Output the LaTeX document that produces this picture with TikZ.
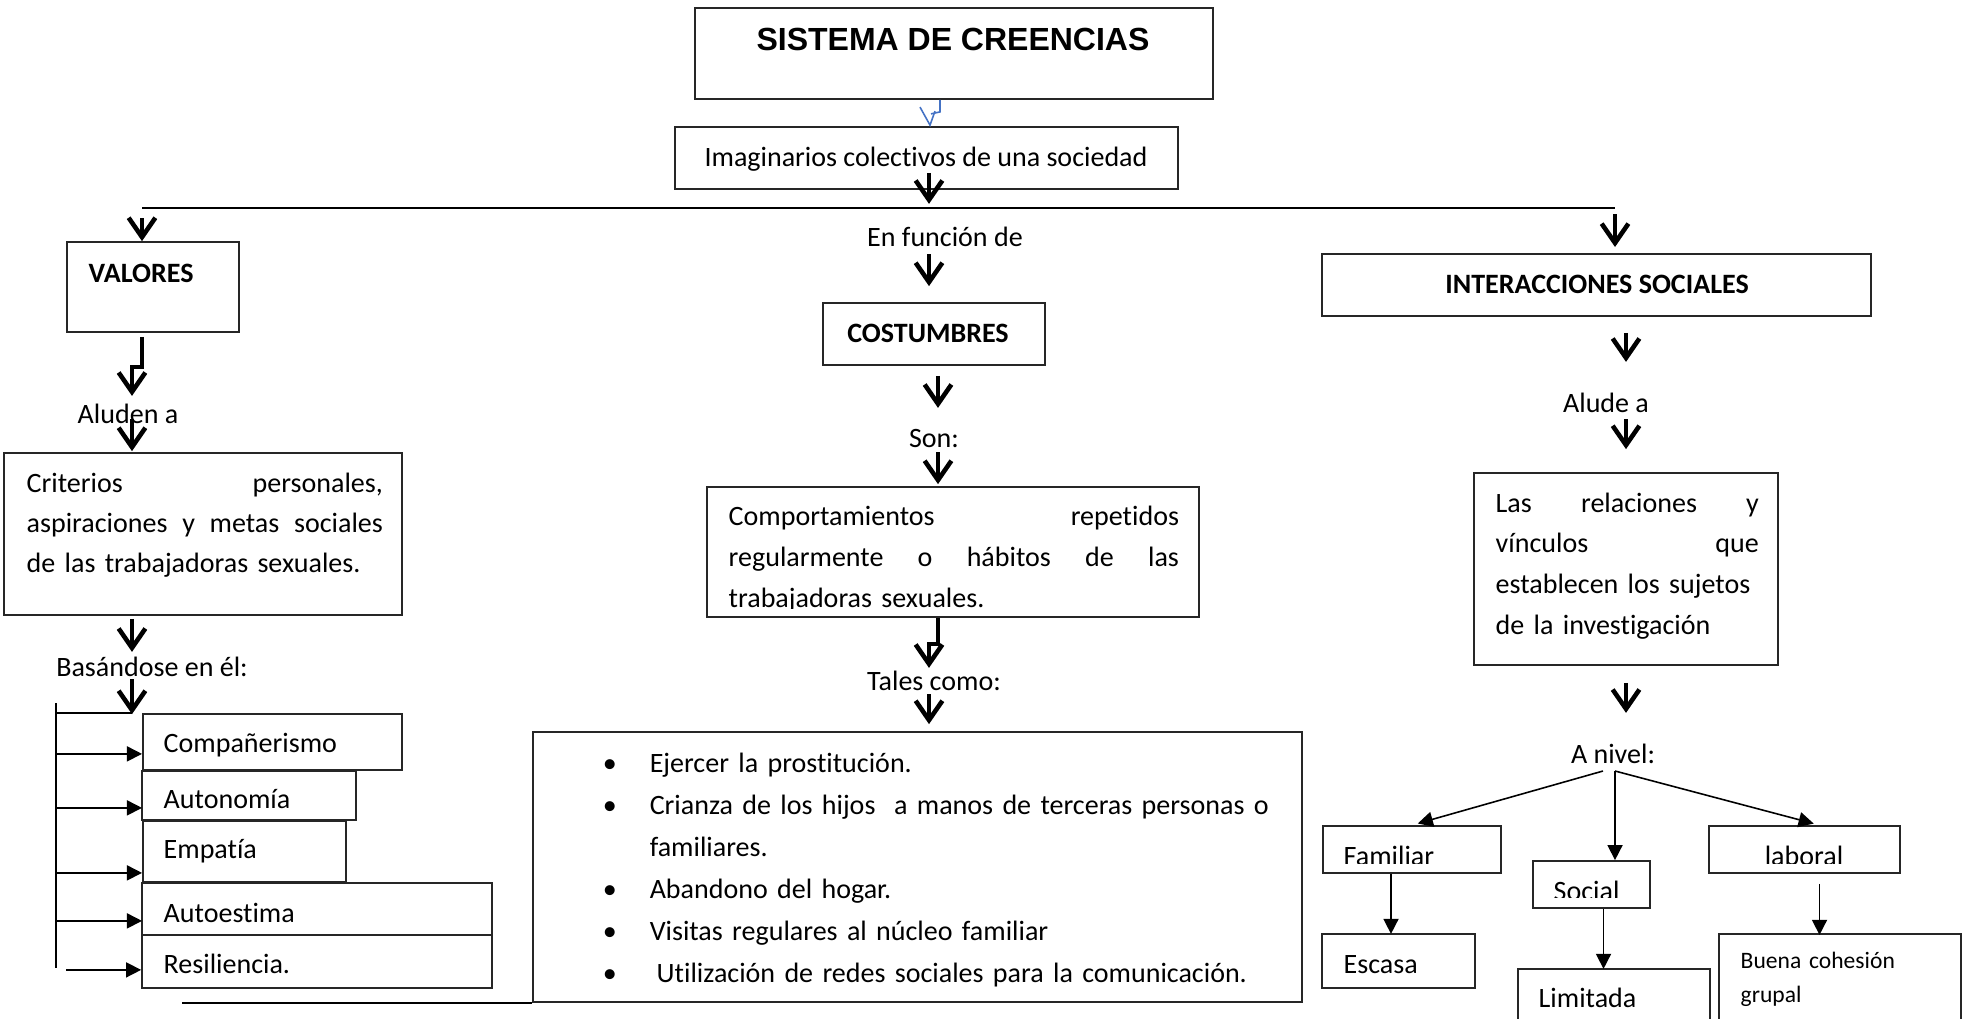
\documentclass[tikz,border=0pt]{standalone}
\usepackage{fontspec}
\setmainfont{Carlito}[Ligatures=CommonOff]
\newfontfamily\titlefont{Liberation Sans}
\usetikzlibrary{arrows.meta,fit,calc}
\definecolor{wordblue}{RGB}{68,114,196}

\begin{document}
\begin{tikzpicture}[x=0.01cm, y=-0.01cm,
    box/.style={draw=black!85, line width=0.5pt, inner sep=0pt},
    txt/.style={inner sep=0pt, font=\fontsize{7.97}{11.4}\selectfont},
    btxt/.style={inner sep=0pt, font=\fontsize{7.97}{11.4}\selectfont\bfseries},
    bigarrow/.style={line width=1.3pt, line join=miter, -{Straight Barb[length=5.5pt,width=7.6pt]}},
    thinarrow/.style={line width=0.45pt, -{Triangle[length=4.3pt,width=4.3pt]}},
    thinline/.style={line width=0.45pt},
    mainline/.style={line width=0.6pt},
    bluelink/.style={draw=wordblue, line width=0.45pt}]

\useasboundingbox (0,0) rectangle (1973,1018);

% boxes
\node[box, fit={(695,8) (1213,99)}] (sistema) {};
\node[box, fit={(675,127) (1178,189)}] (imag) {};
\node[box, fit={(67,242) (239,332)}] (valores) {};
\node[box, fit={(823,303) (1045,365)}] (costumbres) {};
\node[box, fit={(1322,254) (1871,316)}] (inter) {};
\node[box, fit={(4,453) (402,615)}] (criterios) {};
\node[box, fit={(707,487) (1199,617)}] (comport) {};
\node[box, fit={(1474,473) (1778,665)}] (relaciones) {};
\node[box, fit={(143,714) (402,770)}] (companer) {};
\node[box, fit={(142,771) (356,820)}] (autonomia) {};
\node[box, fit={(143,821) (346,882)}] (empatia) {};
\node[box, fit={(142,883) (492,935)}] (autoestima) {};
\node[box, fit={(142,935) (492,988)}] (resiliencia) {};
\node[box, fit={(533,732) (1302,1002)}] (bullets) {};
\node[box, fit={(1323,826) (1501,873)}] (familiar) {};
\node[box, fit={(1533,861) (1650,908)}] (social) {};
\node[box, fit={(1709,826) (1900,873)}] (laboral) {};
\node[box, fit={(1322,934) (1475,988)}] (escasa) {};
\node[box, fit={(1518,969) (1710,1030)}] (limitada) {};
\node[box, fit={(1719,934) (1961,1030)}] (buena) {};

% texts
\node[inner sep=0pt, anchor=base, font=\titlefont\bfseries\fontsize{9.1}{11}\selectfont] (titulo) at (953,50) {SISTEMA DE CREENCIAS};
\node[txt, anchor=base] (imag-t) at (926,166) {Imaginarios colectivos de una sociedad};
\node[txt, anchor=base] (funcion) at (945,246) {En función de};
\node[btxt, anchor=base] (costumbres-t) at (928,342) {COSTUMBRES};
\node[btxt, anchor=base west] (valores-t) at (88,282) {VALORES};
\node[btxt, anchor=base] (inter-t) at (1597,293) {INTERACCIONES SOCIALES};
\node[txt, anchor=base] (aluden) at (128,423) {Aluden a};
\node[txt, anchor=base west, text width=3.56cm, align=left] (criterios-t) at (26,492)
  {Criterios\hfill personales,\\ aspiraciones\hfill y\hfill metas\hfill sociales\\ de las trabajadoras sexuales.};
\node[txt, anchor=base] (basandose) at (152,676) {Basándose en él:};
\node[txt, anchor=base west] (companer-t) at (163,752) {Compañerismo};
\node[txt, anchor=base west] (autonomia-t) at (163,808) {Autonomía};
\node[txt, anchor=base west] (empatia-t) at (163,858) {Empatía};
\node[txt, anchor=base west] (autoestima-t) at (163,922) {Autoestima};
\node[txt, anchor=base west] (resiliencia-t) at (163,973) {Resiliencia.};
\node[txt, anchor=base] (son) at (934,447) {Son:};
\begin{scope}
  \clip (comport.north west) rectangle ([yshift=0.09cm]comport.south east);
  \node[txt, anchor=base west, text width=4.5cm, align=left, font=\fontsize{7.97}{11.66}\selectfont] (comport-t) at (728,525)
    {Comportamientos\hfill repetidos\\ regularmente\hfill o\hfill hábitos\hfill de\hfill las\\ trabajadoras sexuales.};
\end{scope}
\node[txt, anchor=base] (tales) at (934,690) {Tales como:};
\node[txt, anchor=base west, text width=7.2cm, align=left, font=\fontsize{7.97}{11.95}\selectfont] (lista) at (569,772)
  {\makebox[0.8cm]{\textbullet}Ejercer la prostitución.\\
   \makebox[0.8cm]{\textbullet}Crianza de los hijos~ a manos de terceras personas o\\
   \hspace*{0.8cm}familiares.\\
   \makebox[0.8cm]{\textbullet}Abandono del hogar.\\
   \makebox[0.8cm]{\textbullet}Visitas regulares al núcleo familiar\\
   \makebox[0.8cm]{\textbullet}\hspace{0.07cm}Utilización de redes sociales para la comunicación.};
\node[txt, anchor=base] (alude) at (1606,412) {Alude a};
\node[txt, anchor=base west, text width=2.63cm, align=left, font=\fontsize{7.97}{11.58}\selectfont] (relaciones-t) at (1495,512)
  {Las\hfill relaciones\hfill y\\ vínculos\hfill que\\ \mbox{establecen los sujetos}\\ de la investigación};
\node[txt, anchor=base] (anivel) at (1613,763) {A nivel:};
\begin{scope}
  \clip (familiar.north west) rectangle ([yshift=0.1cm]familiar.south east);
  \node[txt, anchor=base west] (familiar-t) at (1343,865) {Familiar};
\end{scope}
\begin{scope}
  \clip (social.north west) rectangle ([yshift=0.11cm]social.south east);
  \node[txt, anchor=base west] (social-t) at (1553,900) {Social};
\end{scope}
\begin{scope}
  \clip (laboral.north west) rectangle ([yshift=0.1cm]laboral.south east);
  \node[txt, anchor=base] (laboral-t) at (1804,865) {laboral};
\end{scope}
\node[txt, anchor=base west] (escasa-t) at (1343,973) {Escasa};
\node[txt, anchor=base west] (limitada-t) at (1538,1007) {Limitada};
\node[inner sep=0pt, anchor=base west, text width=2.2cm, align=left, font=\fontsize{6.7}{9.67}\selectfont] (buena-t) at (1740,968)
  {Buena cohesión\\ grupal};

% connectors
\coordinate (hub) at (929,208);
\coordinate (hl-l) at (142,208);
\coordinate (hl-r) at (1615,208);
\coordinate (bluex) at (940,0);
\coordinate (rc) at (1626,0);
\coordinate (lc) at (132,0);
\coordinate (lv) at (56,0);
\coordinate (mc) at (938,0);
\coordinate (split) at (1615,771);

\draw[bluelink] (sistema.south -| bluex) -- ++(0,12) -- ++(-9,2);
\draw[bluelink] (imag.north -| bluex) ++(-20,-19) -- ++(10,18) -- ++(5,-14);

\draw[mainline] (hl-l) -- (hl-r);
\draw[bigarrow] (hub |- imag.south) ++(0,-17) -- ++(0,31);
\draw[bigarrow] (hl-l) ++(0,10) -- (hl-l |- valores.north);
\draw[bigarrow] (hub |- costumbres.north) ++(0,-48) -- ++(0,32);
\draw[bigarrow] (hl-r) ++(0,6) -- ++(0,33);

\draw[bigarrow] (inter.south -| rc) ++(0,16) -- ++(0,29);
\draw[bigarrow] (relaciones.north -| rc) ++(0,-53) -- ++(0,30);
\draw[bigarrow] (relaciones.south -| rc) ++(0,17) -- ++(0,30);

\draw[bigarrow] (valores.south -| hl-l) ++(0,4) |- ++(-10,30) -- ++(0,29);
\draw[bigarrow] (criterios.north -| lc) ++(0,-33) -- ++(0,32);
\draw[bigarrow] (criterios.south -| lc) ++(0,3) -- ++(0,33);
\draw[bigarrow] (companer.north -| lc) ++(0,-34) -- ++(0,35);

\draw[thinline] (companer.north -| lv) ++(0,-10) -- ++(0,265);
\draw[thinline] (companer.north -| lv) -- (companer.north -| lc);
\draw[thinarrow] (companer.south west -| lv) ++(0,-17) -- ++(86,0);
\draw[thinarrow] (autonomia.south west -| lv) ++(0,-13) -- ++(86,0);
\draw[thinarrow] (empatia.south west -| lv) ++(0,-10) -- ++(86,0);
\draw[thinarrow] (autoestima.south west -| lv) ++(0,-15) -- ++(86,0);
\draw[thinarrow] (resiliencia.south west) ++(-75,-19) -- ++(75,0);
\draw[mainline] (bullets.south west) -- ++(-350,0);

\draw[bigarrow] (costumbres.south -| mc) ++(0,10) -- ++(0,32);
\draw[bigarrow] (comport.north -| mc) ++(0,-34) -- ++(0,32);
\draw[bigarrow] (comport.south -| mc) |- ++(-9,26) -- ++(0,24);
\draw[bigarrow] (bullets.north -| hub) ++(0,-37) -- ++(0,30);

\draw[thinarrow, shorten >=1.7pt] ([xshift=-0.12cm]split) -- (familiar.north);
\draw[thinarrow] (split) -- (split |- social.north);
\draw[thinarrow, shorten >=1.7pt] (split) -- ([xshift=0.15cm]laboral.north);
\draw[thinarrow] (familiar.south) ++(-21,0) -- ++(0,60);
\draw[thinarrow] (social.south) ++(12,0) -- ++(0,60);
\draw[thinarrow] (laboral.south) ++(15,10) -- ++(0,51);

\end{tikzpicture}
\end{document}
